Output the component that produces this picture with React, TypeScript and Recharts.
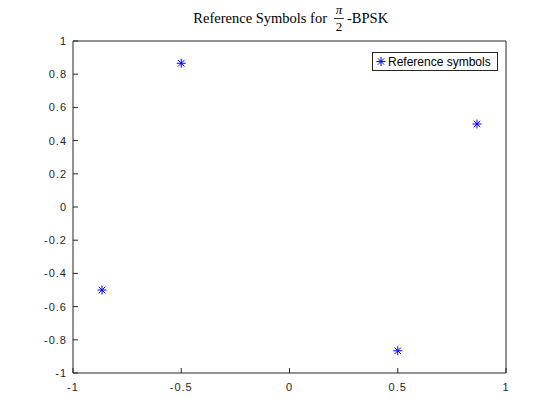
import { ScatterChart, Scatter, XAxis, YAxis } from 'recharts';

// reference symbols for pi/2-BPSK
const symI = [0.866, -0.5, -0.866, 0.5];
const symQ = [0.5, 0.866, -0.5, -0.866];

const xTicks = [-1, -0.5, 0, 0.5, 1];
const yTicks = [-1, -0.8, -0.6, -0.4, -0.2, 0, 0.2, 0.4, 0.6, 0.8, 1];

const seriesName = 'Reference symbols';

const data = symI.map((x, i) => ({ x, y: symQ[i] }));

const AXIS = '#262626';
const BLUE = '#0000ff';
const sans = '"Liberation Sans", Arial, sans-serif';
const serif = '"Liberation Serif", "Times New Roman", serif';

const Star = (props: any) => {
  const { cx, cy } = props;
  if (cx == null || cy == null) return null;
  const r = 4.5;
  const d = 3.2;
  return (
    <g stroke={BLUE} strokeWidth={1} fill="none">
      <line x1={cx - r} y1={cy} x2={cx + r} y2={cy} />
      <line x1={cx} y1={cy - r} x2={cx} y2={cy + r} />
      <line x1={cx - d} y1={cy - d} x2={cx + d} y2={cy + d} />
      <line x1={cx - d} y1={cy + d} x2={cx + d} y2={cy - d} />
    </g>
  );
};

const LegendBox = () => (
  <div
    style={{
      position: 'absolute',
      left: 372,
      top: 52,
      border: `1px solid ${AXIS}`,
      background: '#fff',
      height: 17,
      width: 124,
      display: 'flex',
      alignItems: 'center',
      fontFamily: sans,
      fontSize: 12,
      color: '#000',
      boxSizing: 'content-box',
    }}
  >
    <svg width={14} height={17} style={{ marginLeft: 1 }}>
      <Star cx={7} cy={8.5} />
    </svg>
    <span>{seriesName}</span>
  </div>
);

const fmt = (v: number) => String(v);

const tickStyle = { fill: AXIS, fontSize: 11, fontFamily: sans, letterSpacing: 1 };

export default function App() {
  return (
    <div style={{ position: 'absolute', left: 0, top: 0, width: 560, height: 420, background: '#fff' }}>
      <svg width={560} height={40} style={{ position: 'absolute', left: 0, top: 0 }}>
        <text x={327} y={23} textAnchor="end" fontFamily={serif} fontSize={14.5} fill="#000">
          Reference Symbols for
        </text>
        <text x={339} y={14} textAnchor="middle" fontFamily={serif} fontSize={13} fontStyle="italic" fill="#000">
          π
        </text>
        <line x1={334} x2={344} y1={18.5} y2={18.5} stroke="#000" strokeWidth={0.8} />
        <text x={339} y={31} textAnchor="middle" fontFamily={serif} fontSize={13} fill="#000">
          2
        </text>
        <text x={347} y={23} textAnchor="start" fontFamily={serif} fontSize={14.5} fill="#000">
          -BPSK
        </text>
      </svg>
      <ScatterChart
        width={560}
        height={420}
        margin={{ top: 40, right: 53, bottom: 17, left: 33 }}
        style={{ position: 'absolute', left: 0, top: 0 }}
      >
        <XAxis
          xAxisId="b"
          dataKey="x"
          type="number"
          domain={[-1, 1]}
          ticks={xTicks}
          tickFormatter={fmt}
          orientation="bottom"
          height={30}
          stroke={AXIS}
          tickSize={-5}
          tickMargin={15}
          tick={tickStyle}
          allowDataOverflow
        />
        <XAxis
          xAxisId="t"
          dataKey="x"
          type="number"
          domain={[-1, 1]}
          ticks={xTicks}
          orientation="top"
          height={1}
          stroke={AXIS}
          tickSize={-5}
          tick={false}
          allowDataOverflow
        />
        <YAxis
          yAxisId="l"
          dataKey="y"
          type="number"
          domain={[-1, 1]}
          ticks={yTicks}
          tickFormatter={fmt}
          orientation="left"
          width={40}
          stroke={AXIS}
          tickSize={-5}
          tickMargin={11}
          tick={tickStyle}
          allowDataOverflow
        />
        <YAxis
          yAxisId="r"
          dataKey="y"
          type="number"
          domain={[-1, 1]}
          ticks={yTicks}
          orientation="right"
          width={1}
          stroke={AXIS}
          tickSize={-5}
          tick={false}
          allowDataOverflow
        />
        <Scatter
          name={seriesName}
          data={data}
          xAxisId="b"
          yAxisId="l"
          fill={BLUE}
          shape={<Star />}
          isAnimationActive={false}
        />
        <Scatter
          data={data}
          xAxisId="t"
          yAxisId="r"
          fill="none"
          shape={() => null}
          legendType="none"
          isAnimationActive={false}
        />
      </ScatterChart>
      <LegendBox />
    </div>
  );
}
